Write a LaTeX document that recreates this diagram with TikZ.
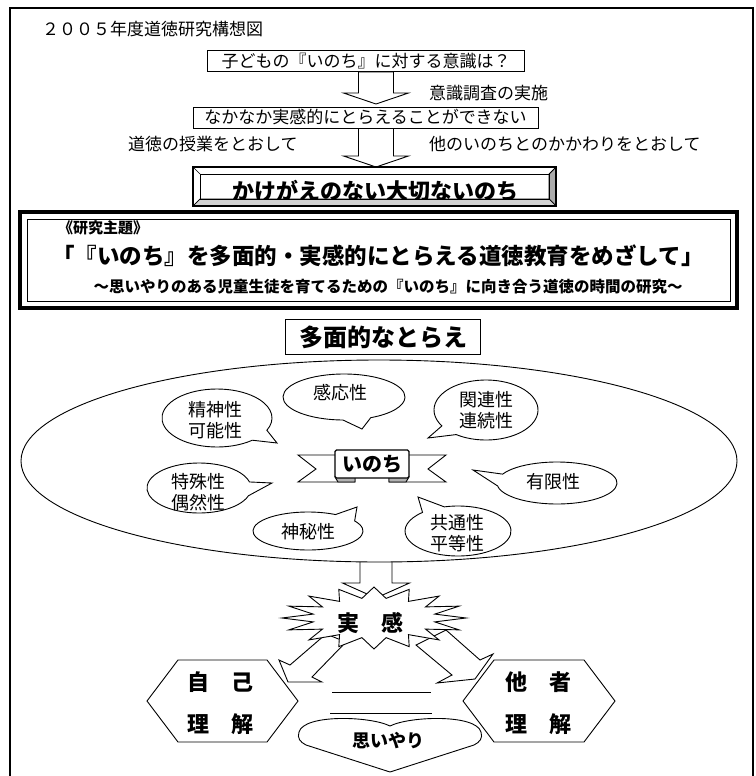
\documentclass[tikz,border=0pt]{standalone}
\usepackage{fontspec}
\setmainfont{Noto Sans CJK JP}
\usetikzlibrary{calc}
\newcommand{\fsz}[1]{\fontsize{#1}{#1}\selectfont}
\newcommand{\bubblepath}[8]{%
  \draw[bubble] (#7,#8) -- ($(#1,#2)+(#5:#3 and #4)$)
    arc[start angle=#5, end angle=#6, x radius=#3, y radius=#4] -- cycle;}
\newcommand{\hollowdown}[6]{%
  \draw[hollow] (#1-#5,#2) -- (#1-#5,#3) -- (#1-#6,#3) -- (#1,#4)
    -- (#1+#6,#3) -- (#1+#5,#3) -- (#1+#5,#2) -- cycle;}
\begin{document}
\begin{tikzpicture}[x=1pt,y=-1pt,line join=miter,
  plainbox/.style={draw,line width=0.9pt,fill=white,inner sep=0pt},
  txt/.style={inner sep=0pt,font=\fsz{17}},
  btxt/.style={inner sep=0pt,font=\bfseries\fsz{#1}},
  hollow/.style={draw,line width=0.9pt,fill=white},
  bubble/.style={draw,line width=0.9pt,fill=white},
  btext/.style={inner sep=0pt,font=\fsz{18}}]
\useasboundingbox (0,0) rectangle (755,776);
\begin{scope}
\clip (0,0) rectangle (755,776);
\draw[line width=1.6pt] (10,8) rectangle (753,800);
\end{scope}

% title
\node[txt,anchor=west] (title) at (42,29) {２００５年度道徳研究構想図};

% box 1, arrow 1
\hollowdown{376}{72}{93}{104}{17.5}{32.5}
\node[plainbox,minimum width=317pt,minimum height=21pt,font=\fsz{17}] (q) at (366,61) {子どもの『いのち』に対する意識は？};
\node[txt,anchor=west] (survey) at (429,93) {意識調査の実施};

% box 2, arrow 2
\hollowdown{376}{128}{156}{167}{17.5}{32.5}
\node[plainbox,minimum width=345pt,minimum height=21pt,font=\fsz{17}] (hard) at (365.5,117.5) {なかなか実感的にとらえることができない};
\node[txt,anchor=west] (lesson) at (128,144) {道徳の授業をとおして};
\node[txt,anchor=west] (other) at (429,144) {他のいのちとのかかわりをとおして};

% bevel box
\fill[white] (193,167) rectangle (556,206);
\node[btxt=22] (precious) at (375,191) {かけがえのない大切ないのち};
\draw[line width=0.7pt,fill=gray!65] (549,174) -- (556,167) -- (556,206) -- (549,199) -- cycle;
\draw[line width=0.7pt,fill=gray!35] (200,199) -- (549,199) -- (556,206) -- (193,206) -- cycle;
\draw[line width=0.7pt] (193,167) -- (200,174) (556,167) -- (549,174) (193,206) -- (200,199);
\draw[line width=0.7pt] (200,174) rectangle (549,199);
\draw[line width=1.1pt] (193,167) rectangle (556,206);

% theme box
\draw[line width=4pt] (20,212) rectangle (737,308);
\draw[line width=0.8pt] (27,219) rectangle (730,301);
\node[btxt=15,anchor=west] (themehead) at (58,228) {《研究主題》};
\node[btxt=22.5] (theme) at (378,256) {「『いのち』を多面的・実感的にとらえる道徳教育をめざして」};
\node[btxt=15.5] (subtheme) at (388,287) {～思いやりのある児童生徒を育てるための『いのち』に向き合う道徳の時間の研究～};

% arrow 3 (under the ellipse and starburst)
\hollowdown{376}{555}{583}{598}{16}{33.5}

% big ellipse
\draw[line width=0.9pt,fill=white] (379,461) ellipse [x radius=358, y radius=101];

% header box
\node[plainbox,minimum width=195pt,minimum height=35pt,font=\bfseries\fsz{24}] (multi) at (383,337) {多面的なとらえ};

% callouts
\bubblepath{217}{418}{55}{29}{50}{385}{277}{443}
\node[btext] (c1a) at (215,410) {精神性};
\node[btext] (c1b) at (215,431) {可能性};
\bubblepath{344}{397}{61}{23}{91}{424}{362}{429}
\node[btext] (c2) at (340,393) {感応性};
\bubblepath{486}{410}{52}{30}{148}{485}{428}{438}
\node[btext] (c3a) at (486,400) {関連性};
\node[btext] (c3b) at (486,421) {連続性};
\bubblepath{199}{488}{52}{25}{18}{346}{272}{483}
\node[btext] (c4a) at (198,482) {特殊性};
\node[btext] (c4b) at (198,503) {偶然性};
\bubblepath{557}{483}{60}{21}{205}{532}{473}{470}
\node[btext] (c5) at (553,482) {有限性};
\bubblepath{308}{531}{55}{19}{-32}{300}{357}{507}
\node[btext] (c6) at (308,532) {神秘性};
\bubblepath{458}{531}{53}{25}{255}{588}{418}{497}
\node[btext] (c7a) at (457,523) {共通性};
\node[btext] (c7b) at (457,544) {平等性};

% ribbon
\draw[line width=0.9pt,fill=white] (336,455) -- (298,455) -- (316,469) -- (298,482) -- (355,482) -- (355,477);
\draw[line width=0.9pt,fill=white] (408,455) -- (446,455) -- (428,469) -- (446,482) -- (389,482) -- (389,477);
\draw[line width=0.9pt,fill=gray!60] (335,477) -- (355,477) -- (355,482) -- (338,482) -- cycle;
\draw[line width=0.9pt,fill=gray!60] (389,477) -- (409,477) -- (406,482) -- (389,482) -- cycle;
\node[draw,line width=1.1pt,fill=white,rounded corners=1.5pt,minimum width=74pt,minimum height=28pt,inner sep=0pt,font=\bfseries\fsz{20}] (life) at (372,464) {いのち};

% diagonal arrows
\draw[hollow] (346,642) -- (312,677) -- (322,682) -- (288,682) -- (279,660) -- (290,665) -- (326,634) -- cycle;
\draw[hollow] (416,645) -- (452,675) -- (437,683) -- (475,679) -- (493,654) -- (480,660) -- (446,630) -- cycle;

% starburst
\coordinate (sb) at (374,618);
\draw[hollow] ($(sb)+(0:92 and 31)$)
  \foreach \i in {1,...,15} { -- ($(sb)+({\i*22.5-11.25}:62 and 20)$) -- ($(sb)+({\i*22.5}:92 and 31)$) }
  -- ($(sb)+(348.75:62 and 20)$) -- cycle;
\node[btxt=22] (real) at (370,623) {実　感};

% hexagons
\draw[line width=0.9pt,fill=white] (147,701) -- (178,660) -- (267,660) -- (298,701) -- (267,742) -- (178,742) -- cycle;
\node[btxt=22] (self1) at (220,682) {自　己};
\node[btxt=22] (self2) at (220,724) {理　解};
\draw[line width=0.9pt,fill=white] (463,701) -- (494,660) -- (584,660) -- (615,701) -- (584,742) -- (494,742) -- cycle;
\node[btxt=22] (oth1) at (538,682) {他　者};
\node[btxt=22] (oth2) at (538,724) {理　解};

% lines
\coordinate (l1a) at (332,692); \coordinate (l1b) at (431,692);
\coordinate (l2a) at (330,713); \coordinate (l2b) at (432,713);
\draw[line width=0.9pt] (l1a) -- (l1b);
\draw[line width=0.9pt] (l2a) -- (l2b);

% heart
\draw[line width=0.9pt,fill=white] (390,726) .. controls (370,716) and (304,714) .. (299,732)
  .. controls (297,738) and (300,742) .. (306,745) -- (390,772) -- (474,745)
  .. controls (480,742) and (483,738) .. (481,732) .. controls (476,714) and (410,716) .. (390,726) -- cycle;
\node[btxt=18] (care) at (388,741) {思いやり};
\end{tikzpicture}
\end{document}
